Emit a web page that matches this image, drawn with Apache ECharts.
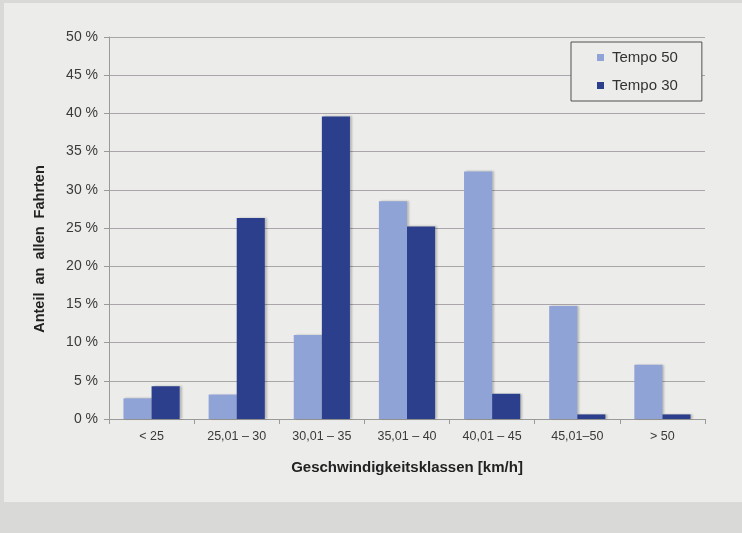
<!DOCTYPE html>
<html>
<head>
<meta charset="utf-8">
<script src="https://cdn.jsdelivr.net/npm/echarts@6/dist/echarts.min.js"></script>
<style>
  html, body { margin: 0; padding: 0; background: #d9d9d8; }
  #chart { width: 742px; height: 533px; }
</style>
</head>
<body>
<div id="chart"></div>
<script>
// Speed classes and share of all trips (%)
const categories = ['< 25', '25,01 – 30', '30,01 – 35', '35,01 – 40', '40,01 – 45', '45,01–50', '> 50'];
const tempo50 = [2.7, 3.2, 11.0, 28.5, 32.4, 14.8, 7.1];
const tempo30 = [4.3, 26.3, 39.6, 25.2, 3.3, 0.6, 0.6];
const seriesNames = ['Tempo 50', 'Tempo 30'];
const yTicks = { min: 0, max: 50, interval: 5 };

const chart = echarts.init(document.getElementById('chart'));
const font = 'Liberation Sans, Arial, sans-serif';
const panelColor = '#ececea';
const barShadow = {
  shadowColor: 'rgba(0,0,0,0.22)',
  shadowBlur: 2,
  shadowOffsetX: 2,
  shadowOffsetY: 0
};

chart.setOption({
  backgroundColor: '#d9d9d8',
  animation: false,
  textStyle: { fontFamily: font },
  graphic: [{
    type: 'rect',
    z: -10,
    silent: true,
    shape: { x: 4, y: 3, width: 738, height: 499 },
    style: { fill: panelColor }
  }],
  legend: {
    data: seriesNames,
    orient: 'vertical',
    left: 571,
    top: 42,
    icon: 'rect',
    itemWidth: 7,
    itemHeight: 7,
    itemGap: 13,
    padding: [8, 24, 8, 26],
    backgroundColor: panelColor,
    borderColor: '#505050',
    borderWidth: 1,
    textStyle: { fontFamily: font, fontSize: 15, color: '#333', padding: [0, 0, 0, 3] }
  },
  grid: { left: 109, right: 37, top: 37, bottom: 114 },
  xAxis: {
    type: 'category',
    data: categories,
    name: 'Geschwindigkeitsklassen [km/h]',
    nameLocation: 'middle',
    nameGap: 41,
    nameTextStyle: { fontFamily: font, fontSize: 15, fontWeight: 'bold', color: '#222' },
    axisLine: { lineStyle: { color: '#9a9a9a', width: 1 } },
    axisTick: { show: true, length: 5, lineStyle: { color: '#9a9a9a' } },
    axisLabel: { fontFamily: font, fontSize: 12.5, color: '#3a3a3a', margin: 11 },
    splitLine: { show: false }
  },
  yAxis: {
    type: 'value',
    min: yTicks.min,
    max: yTicks.max,
    interval: yTicks.interval,
    name: 'Anteil  an  allen  Fahrten',
    nameLocation: 'middle',
    nameGap: 62,
    nameTextStyle: {
      fontFamily: font, fontSize: 14.5, fontWeight: 'bold', color: '#222',
      padding: [0, 42, 0, 0]
    },
    axisLine: { show: true, lineStyle: { color: '#9a9a9a', width: 1 } },
    axisTick: { show: true, length: 5, lineStyle: { color: '#9a9a9a' } },
    axisLabel: { fontFamily: font, fontSize: 14, color: '#3a3a3a', margin: 11, formatter: '{value} %' },
    splitLine: { lineStyle: { color: '#aaa5a8', width: 1 } }
  },
  series: [
    {
      name: seriesNames[0],
      type: 'bar',
      data: tempo50,
      barGap: '0%',
      barCategoryGap: '34%',
      itemStyle: Object.assign({ color: '#8fa3d6' }, barShadow)
    },
    {
      name: seriesNames[1],
      type: 'bar',
      data: tempo30,
      itemStyle: Object.assign({ color: '#2c3f8c' }, barShadow)
    }
  ]
});
</script>
</body>
</html>
